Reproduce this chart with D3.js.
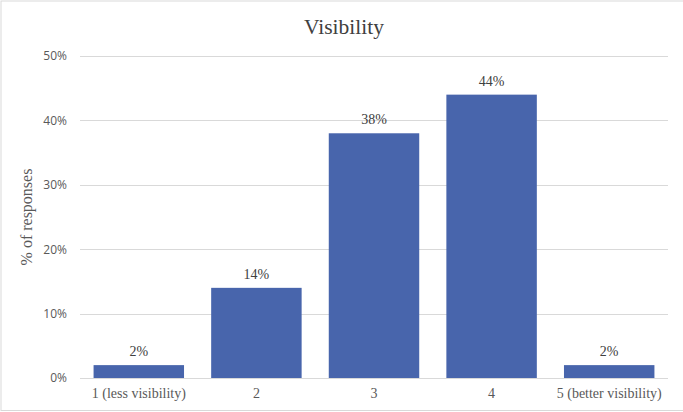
<!DOCTYPE html>
<html>
<head>
<meta charset="utf-8">
<script src="https://cdn.jsdelivr.net/npm/d3@7"></script>
<style>
  html, body { margin: 0; padding: 0; background: #fff; }
  svg { display: block; }
</style>
</head>
<body>
<svg id="chart" width="683" height="412"></svg>
<script>
// Survey results: share of responses per visibility rating
const categories = ["1 (less visibility)", "2", "3", "4", "5 (better visibility)"];
const responses = [0.02, 0.14, 0.38, 0.44, 0.02];
const yTicks = [0, 0.1, 0.2, 0.3, 0.4, 0.5];
const chartTitle = "Visibility";
const yAxisTitle = "% of responses";

const width = 683, height = 412;
const margin = { top: 56, right: 15, bottom: 34, left: 80 };
const serif = "'Liberation Serif', 'Times New Roman', serif";
const sans = "'Open Sans', 'Liberation Sans', sans-serif";

const svg = d3.select("#chart");

// chart frame
svg.append("rect")
  .attr("x", 1).attr("y", 1)
  .attr("width", width + 2).attr("height", height - 2.5)
  .attr("fill", "#fff")
  .attr("stroke", "#d9d9d9").attr("stroke-width", 1);

const x = d3.scaleBand()
  .domain(categories)
  .range([margin.left, width - margin.right])
  .paddingInner(0.2308)
  .paddingOuter(0.1154);

const y = d3.scaleLinear()
  .domain([0, 0.5])
  .range([height - margin.bottom, margin.top]);

// horizontal gridlines
svg.append("g")
  .selectAll("line")
  .data(yTicks)
  .join("line")
  .attr("x1", margin.left).attr("x2", width - margin.right)
  .attr("y1", d => Math.round(y(d)) + 0.5).attr("y2", d => Math.round(y(d)) + 0.5)
  .attr("stroke", "#d9d9d9").attr("stroke-width", 1);

// y axis tick labels
const yAxis = d3.axisLeft(y)
  .tickValues(yTicks)
  .tickFormat(d3.format(".0%"))
  .tickSize(0)
  .tickPadding(13);
const gy = svg.append("g")
  .attr("transform", `translate(${margin.left},0)`)
  .call(yAxis);
gy.select(".domain").remove();
gy.selectAll("text")
  .attr("font-family", sans)
  .attr("font-size", 12)
  .attr("fill", "#595959");

// bars
svg.append("g")
  .selectAll("rect")
  .data(responses)
  .join("rect")
  .attr("x", (d, i) => x(categories[i]))
  .attr("y", d => y(d))
  .attr("width", x.bandwidth())
  .attr("height", d => y(0) - y(d))
  .attr("fill", "#4865ac");

// value labels
svg.append("g")
  .selectAll("text")
  .data(responses)
  .join("text")
  .attr("x", (d, i) => x(categories[i]) + x.bandwidth() / 2)
  .attr("y", d => y(d) - 9)
  .attr("text-anchor", "middle")
  .attr("font-family", serif)
  .attr("font-size", 14)
  .attr("fill", "#404040")
  .text(d => d3.format(".0%")(d));

// category axis
const xAxis = d3.axisBottom(x).tickSize(0).tickPadding(10);
const gx = svg.append("g")
  .attr("transform", `translate(0,${height - margin.bottom})`)
  .call(xAxis);
gx.select(".domain").remove();
gx.selectAll("text")
  .attr("font-family", serif)
  .attr("font-size", 14)
  .attr("fill", "#595959");

// title
svg.append("text")
  .attr("x", 344)
  .attr("y", 34)
  .attr("text-anchor", "middle")
  .attr("font-family", serif)
  .attr("font-size", 21.5)
  .attr("fill", "#404040")
  .text(chartTitle);

// y axis title
svg.append("text")
  .attr("transform", `translate(32,${(margin.top + height - margin.bottom) / 2}) rotate(-90)`)
  .attr("text-anchor", "middle")
  .attr("font-family", serif)
  .attr("font-size", 16)
  .attr("fill", "#595959")
  .text(yAxisTitle);
</script>
</body>
</html>
